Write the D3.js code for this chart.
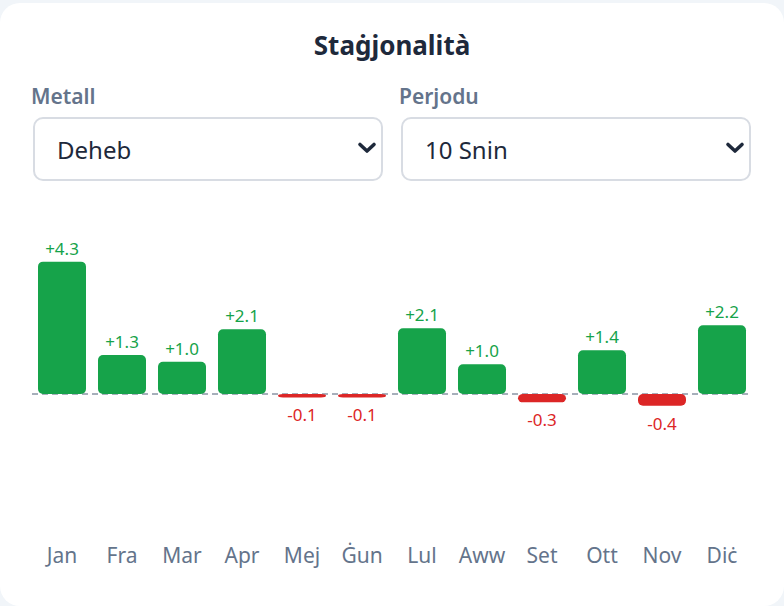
<html>
	<head>
		<title>Staġjonalità</title>
		<script src="https://cdn.jsdelivr.net/npm/d3@7"></script>
		<style type="text/css">
			body {
				margin: 0;
				width: 784px;
				height: 606px;
				overflow: hidden;
				position: relative;
				background: #f1f5f9;
				font-family: "Noto Sans", "Open Sans", sans-serif;
			}

			.card {
				position: absolute;
				left: 0;
				top: 3px;
				width: 784px;
				height: 603px;
				background: #fff;
				border-radius: 20px;
			}

			svg {
				position: absolute;
				left: 0;
				top: 0;
			}

			select {
				position: absolute;
				top: 117px;
				width: 350px;
				height: 64px;
				box-sizing: border-box;
				border: 2px solid #d8dce3;
				border-radius: 10px;
				padding: 0 0 0 22px;
				font-family: "Noto Sans", "Open Sans", sans-serif;
				font-size: 24px;
				color: #1e293b;
				background: #fff;
				-webkit-appearance: none;
				appearance: none;
				outline: none;
			}

			.chev {
				position: absolute;
				pointer-events: none;
			}
		</style>
	</head>
	<body>
		<div class="card"></div>
		<script type="text/javascript">
			var width = 784,
				height = 606;

			// data
			var months = ["Jan", "Fra", "Mar", "Apr", "Mej", "Ġun", "Lul", "Aww", "Set", "Ott", "Nov", "Diċ"];
			var values = [4.27, 1.26, 1.04, 2.09, -0.11, -0.11, 2.12, 0.96, -0.27, 1.41, -0.38, 2.22];
			var metals = ["Deheb", "Fidda", "Platinu"];
			var periods = ["10 Snin", "5 Snin", "20 Snin"];

			var green = "#16a34a",
				red = "#dc2626";

			var svg = d3.select("body").append("svg")
				.attr("width", width)
				.attr("height", height);

			svg.append("text")
				.attr("x", 392)
				.attr("y", 55)
				.attr("text-anchor", "middle")
				.attr("font-size", 26)
				.attr("font-weight", 700)
				.attr("fill", "#1e293b")
				.text("Staġjonalità");

			svg.selectAll(".lbl")
				.data([{t: "Metall", x: 31}, {t: "Perjodu", x: 399}])
				.enter().append("text")
				.attr("class", "lbl")
				.attr("x", function(d) { return d.x; })
				.attr("y", 104)
				.attr("font-size", 21)
				.attr("font-weight", 600)
				.attr("fill", "#64748b")
				.text(function(d) { return d.t; });

			var x = d3.scaleBand()
				.domain(months)
				.range([32, 752])
				.paddingInner(0.2)
				.paddingOuter(0.1);

			var y = d3.scaleLinear()
				.domain([-5, 5])
				.range([549, 239]);

			var chart = svg.append("g");

			chart.append("line")
				.attr("x1", x.range()[0])
				.attr("x2", x.range()[1])
				.attr("y1", y(0))
				.attr("y2", y(0))
				.attr("stroke", "#a7afbb")
				.attr("stroke-width", 2)
				.attr("stroke-dasharray", "6 4");

			var data = months.map(function(m, i) { return {m: m, v: values[i]}; });

			chart.selectAll(".bar")
				.data(data)
				.enter().append("rect")
				.attr("class", "bar")
				.attr("x", function(d) { return x(d.m); })
				.attr("width", x.bandwidth())
				.attr("y", function(d) { return y(Math.max(0, d.v)); })
				.attr("height", function(d) { return Math.abs(y(d.v) - y(0)); })
				.attr("rx", 5)
				.attr("fill", function(d) { return d.v >= 0 ? green : red; });

			chart.selectAll(".val")
				.data(data)
				.enter().append("text")
				.attr("class", "val")
				.attr("x", function(d) { return x(d.m) + x.bandwidth() / 2; })
				.attr("y", function(d) { return d.v >= 0 ? y(d.v) - 7 : y(d.v) + 24; })
				.attr("text-anchor", "middle")
				.attr("font-size", 17)
				.attr("fill", function(d) { return d.v >= 0 ? green : red; })
				.text(function(d) { return (d.v >= 0 ? "+" : "") + d.v.toFixed(1); });

			var xAxis = d3.axisBottom(x).tickSize(0).tickPadding(0);
			var ax = svg.append("g")
				.attr("transform", "translate(0,548)")
				.call(xAxis);
			ax.select(".domain").remove();
			ax.selectAll("text")
				.attr("font-family", "Noto Sans, Open Sans, sans-serif")
				.attr("font-size", 21)
				.attr("fill", "#64748b");

			// dropdowns
			var selects = [{opts: metals, left: 33}, {opts: periods, left: 401}];
			selects.forEach(function(s) {
				var sel = d3.select("body").append("select")
					.style("left", s.left + "px");
				sel.selectAll("option")
					.data(s.opts)
					.enter().append("option")
					.text(function(d) { return d; });

				var c = d3.select("body").append("svg")
					.attr("class", "chev")
					.attr("width", 24)
					.attr("height", 16)
					.style("left", (s.left + 334 - 12) + "px")
					.style("top", (148 - 8) + "px");
				c.append("path")
					.attr("d", "M5,4.5L12,11L19,4.5")
					.attr("fill", "none")
					.attr("stroke", "#1e293b")
					.attr("stroke-width", 3.6)
					.attr("stroke-linecap", "round")
					.attr("stroke-linejoin", "round");
			});
		</script>
	</body>
</html>
